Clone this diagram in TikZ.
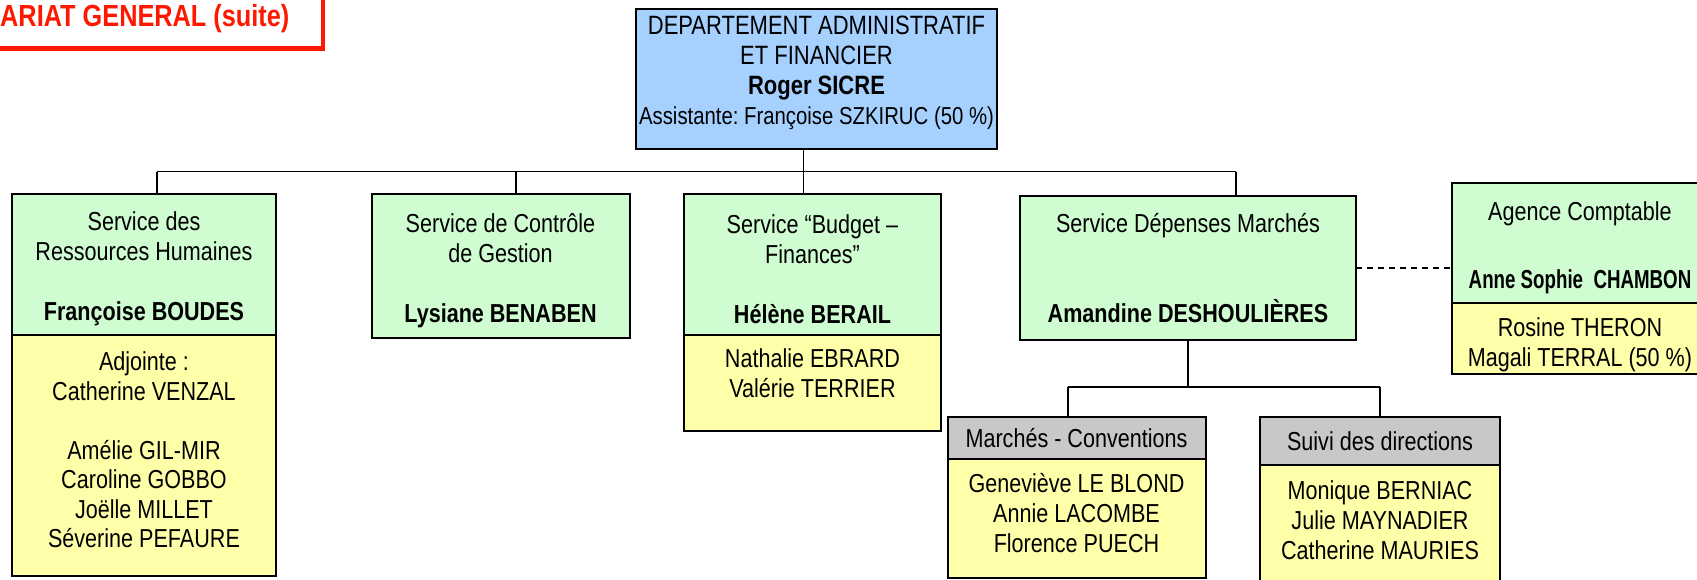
\documentclass[tikz,border=0pt]{standalone}
\usepackage{fontspec}
\setmainfont{Liberation Sans}[FakeStretch=0.83]
\newfontfamily\tightbold{Liberation Sans}[FakeStretch=0.72]
\usetikzlibrary{positioning, calc}
\definecolor{deptblue}{RGB}{166,209,255}
\definecolor{servgreen}{RGB}{208,252,210}
\definecolor{staffyellow}{RGB}{255,255,170}
\definecolor{unitgray}{RGB}{200,200,200}
\definecolor{titlered}{RGB}{255,24,0}
\newcommand{\servgap}{\rule{0pt}{28pt}}
\newcommand{\deptgap}{\rule[-18pt]{0pt}{1pt}}
\frenchspacing

\begin{document}
\begin{tikzpicture}[x=1pt, y=-1pt,
  box/.style={draw, rectangle, line width=2pt, anchor=north west, inner sep=2pt, outer sep=0pt, align=center, font=\fontsize{26}{30}\selectfont},
  service/.style={box, fill=servgreen},
  staff/.style={box, fill=staffyellow},
  unit/.style={box, fill=unitgray},
  names/.style={anchor=north, inner sep=0pt, align=center, font=\fontsize{26}{30}\selectfont},
  link/.style={line width=1.8pt}]
  \useasboundingbox (0,0) rectangle (1697,579);
  \clip (0,0) rectangle (1697,579);

  % Title frame, cut by the page edge
  \draw[titlered, line width=4.5pt] (-40,-40) rectangle (323,48.7);
  \node[anchor=base west, inner sep=0pt, text=titlered, font=\fontsize{30.5}{36}\selectfont\bfseries] (titre) at (0,26.5) {ARIAT GENERAL (suite)};

  % Department head
  \node[box, fill=deptblue, minimum width=361, minimum height=140, font=\fontsize{26.5}{30}\selectfont] (dept) at (636,9) {DEPARTEMENT ADMINISTRATIF\\ET FINANCIER\\\textbf{Roger SICRE}\\{\fontsize{24.5}{30}\selectfont Assistante: Françoise SZKIRUC (50 \%)}\deptgap};

  % Services
  \node[service, minimum width=264, minimum height=141] (rh) at (12,194) {\servgap Service des\\Ressources Humaines\\[30pt]\textbf{Françoise BOUDES}};
  \node[staff, minimum width=264, minimum height=241] (rhstaff) at (rh.south west) {};
  \node[names, font=\fontsize{26}{29.5}\selectfont] (rhnames) at ([yshift=-15pt]rhstaff.north) {\strut Adjointe :\\Catherine VENZAL\\[29.5pt]Amélie GIL-MIR\\Caroline GOBBO\\Joëlle MILLET\\Séverine PEFAURE};

  \node[service, minimum width=258, minimum height=144] (cg) at (371.5,194) {\servgap Service de Contrôle\\de Gestion\\[30pt]\textbf{Lysiane BENABEN}};

  \node[service, minimum width=257, minimum height=141] (bf) at (684,194) {\servgap Service “Budget –\\Finances”\\[30pt]\textbf{Hélène BERAIL}};
  \node[staff, minimum width=257, minimum height=96] (bfstaff) at (bf.south west) {};
  \node[names] (bfnames) at ([yshift=-11.6pt]bfstaff.north) {\strut Nathalie EBRARD\\Valérie TERRIER};

  \node[service, minimum width=336, minimum height=144] (dm) at (1020,196) {Service Dépenses Marchés\\[60pt]\textbf{Amandine DESHOULIÈRES}};

  \node[service, minimum width=256, minimum height=120] (ac) at (1452,183) {\servgap Agence Comptable\\[38pt]{\tightbold\bfseries Anne Sophie\ \ CHAMBON}};
  \node[staff, minimum width=256, minimum height=71] (acstaff) at (ac.south west) {};
  \node[names] (acnames) at ([yshift=-12pt]acstaff.north) {\strut Rosine THERON\\Magali TERRAL (50 \%)};

  % Units under Depenses Marches
  \node[unit, minimum width=258, minimum height=41.5] (mc) at (947.5,417) {Marchés - Conventions};
  \node[staff, minimum width=258, minimum height=119] (mcstaff) at (mc.south west) {};
  \node[names] (mcnames) at ([yshift=-13.1pt]mcstaff.north) {\strut Geneviève LE BLOND\\Annie LACOMBE\\Florence PUECH};

  \node[unit, minimum width=240, minimum height=48] (sd) at (1260,417) {Suivi des directions};
  \node[staff, minimum width=240, minimum height=140] (sdstaff) at (sd.south west) {};
  \node[names] (sdnames) at ([yshift=-13.3pt]sdstaff.north) {\strut Monique BERNIAC\\Julie MAYNADIER\\Catherine MAURIES};

  % Bus under the department
  \coordinate (jrh) at (157,171.5);
  \coordinate (jcg) at (516,171.5);
  \coordinate (jbf) at (803.5,171.5);
  \coordinate (jdm) at (1236,171.5);
  \draw[link] (jrh) -- (jdm);
  \draw[link] (dept.south -| jbf) -- (bf.north -| jbf);
  \draw[link] (jrh) -- (rh.north -| jrh);
  \draw[link] (jcg) -- (cg.north -| jcg);
  \draw[link] (jdm) -- (dm.north -| jdm);

  % Dotted tie to the accounting agency
  \draw[link, dash pattern=on 6pt off 5pt] (dm.east) -- (dm.east -| ac.west);

  % Bus under Depenses Marches
  \coordinate (jmc) at (1068,387);
  \coordinate (jsd) at (1380,387);
  \draw[link] (dm.south) -- (dm.south |- jmc);
  \draw[link] (jmc) -- (jsd);
  \draw[link] (jmc) -- (mc.north -| jmc);
  \draw[link] (jsd) -- (sd.north -| jsd);
\end{tikzpicture}
\end{document}
